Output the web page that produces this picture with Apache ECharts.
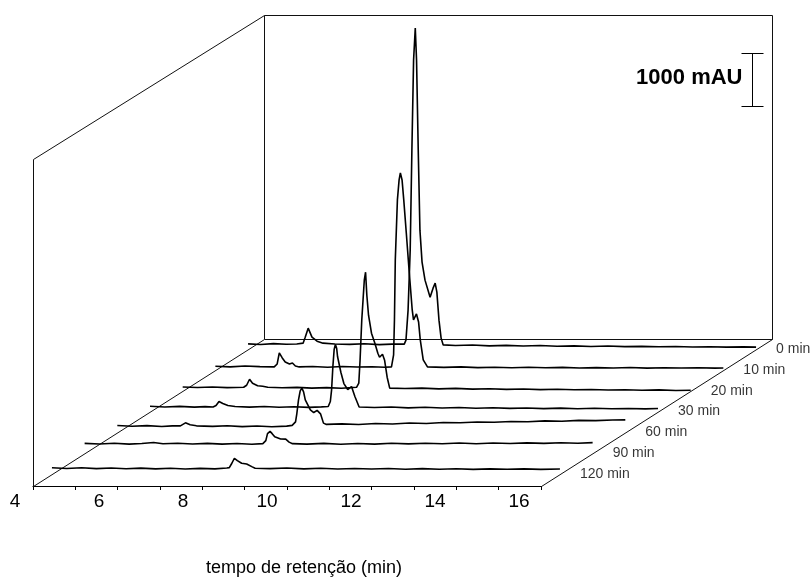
<!DOCTYPE html>
<html>
<head>
<meta charset="utf-8">
<script src="https://cdn.jsdelivr.net/npm/echarts@6/dist/echarts.min.js"></script>
<style>
  html, body { margin: 0; padding: 0; background: #fff; }
  #chart { width: 811px; height: 579px; }
</style>
</head>
<body>
<div id="chart"></div>
<script>
// Sampling times of the chromatograms (back row first)
const sampleLabels = ['0 min', '10 min', '20 min', '30 min', '60 min', '90 min', '120 min'];
// Retention-time tick labels (min)
const timeTicks = [4, 6, 8, 10, 12, 14, 16];
// Vertical scale bar value (mAU)
const scaleBarValue = 1000;
const axisTitle = 'tempo de retenção (min)';

// Chromatograms: [retention time (min), absorbance (mAU)]
const trace0min = [
  [4.00, 100], [4.30, 88], [4.60, 104], [4.90, 92], [5.15, 98], [5.30, 113], [5.35, 226], [5.42, 396],
  [5.51, 226], [5.63, 151], [5.77, 113], [6.05, 96], [6.40, 90], [6.75, 102], [7.10, 86], [7.40, 95],
  [7.69, 94], [7.73, 170], [7.78, 736], [7.83, 1868], [7.87, 3755], [7.91, 5453], [7.95, 6057], [7.98, 5453],
  [8.02, 3755], [8.06, 2245], [8.11, 1642], [8.18, 1302], [8.30, 981], [8.37, 1151], [8.42, 1245], [8.46, 1075],
  [8.51, 547], [8.56, 208], [8.61, 80], [8.90, 70], [9.30, 78], [9.70, 62], [10.1, 72], [10.5, 60],
  [10.9, 68], [11.3, 55], [11.7, 62], [12.1, 50], [12.5, 58], [12.9, 47], [13.3, 52], [13.7, 44],
  [14.1, 50], [14.5, 40], [14.9, 46], [15.3, 38], [15.7, 42], [16.0, 38]
];
const trace10min = [
  [4.00, 70], [4.35, 58], [4.70, 74], [5.05, 62], [5.39, 57], [5.46, 113], [5.51, 321], [5.58, 226],
  [5.65, 151], [5.75, 113], [5.82, 132], [5.89, 75], [5.98, 57], [6.30, 66], [6.65, 52], [7.00, 64],
  [7.35, 55], [7.70, 60], [8.00, 52], [8.16, 57], [8.21, 283], [8.23, 943], [8.25, 2075], [8.30, 3208],
  [8.34, 3585], [8.37, 3717], [8.41, 3585], [8.45, 3208], [8.51, 2585], [8.57, 1943], [8.65, 1132], [8.68, 943],
  [8.75, 1057], [8.80, 906], [8.84, 566], [8.91, 189], [9.01, 57], [9.40, 48], [9.80, 58], [10.2, 44],
  [10.6, 52], [11.0, 40], [11.4, 50], [11.8, 42], [12.2, 48], [12.6, 36], [13.0, 44], [13.4, 38],
  [13.8, 46], [14.2, 34], [14.6, 42], [15.0, 36], [15.4, 40], [15.8, 34], [16.0, 38]
];
const trace20min = [
  [4.00, 72], [4.35, 60], [4.70, 70], [5.05, 58], [5.44, 66], [5.51, 104], [5.58, 217], [5.65, 142],
  [5.77, 94], [5.89, 85], [6.01, 66], [6.35, 56], [6.70, 64], [7.05, 50], [7.40, 58], [7.75, 46],
  [8.11, 66], [8.16, 142], [8.19, 575], [8.23, 1330], [8.26, 1708], [8.29, 2085], [8.32, 2236], [8.35, 1802],
  [8.39, 1425], [8.46, 1085], [8.54, 896], [8.61, 708], [8.65, 632], [8.72, 689], [8.77, 575], [8.83, 255],
  [8.89, 50], [9.25, 42], [9.65, 50], [10.05, 36], [10.45, 44], [10.85, 30], [11.25, 38], [11.65, 26],
  [12.05, 34], [12.45, 22], [12.85, 28], [13.25, 18], [13.65, 24], [14.05, 14], [14.45, 20], [14.85, 10],
  [15.25, 16], [15.65, 6], [16.0, 8]
];
const trace30min = [
  [4.00, 100], [4.35, 86], [4.70, 98], [5.05, 84], [5.30, 92], [5.49, 85], [5.56, 113], [5.63, 189],
  [5.72, 151], [5.84, 113], [6.01, 94], [6.35, 84], [6.70, 96], [7.05, 80], [7.40, 90], [7.75, 78],
  [8.05, 88], [8.21, 94], [8.26, 189], [8.29, 415], [8.32, 849], [8.35, 1170], [8.38, 1264], [8.41, 1189],
  [8.43, 1038], [8.51, 736], [8.58, 528], [8.67, 415], [8.76, 472], [8.84, 283], [8.94, 85], [9.30, 76],
  [9.70, 86], [10.1, 70], [10.5, 80], [10.9, 66], [11.3, 76], [11.7, 62], [12.1, 72], [12.5, 60],
  [12.9, 68], [13.3, 56], [13.7, 64], [14.1, 54], [14.5, 62], [14.9, 52], [15.3, 58], [15.7, 50], [16.0, 57]
];
const trace60min = [
  [4.00, 128], [4.35, 114], [4.70, 126], [5.05, 110], [5.30, 122], [5.49, 123], [5.61, 179], [5.72, 142],
  [5.87, 123], [6.25, 112], [6.60, 124], [6.95, 108], [7.30, 120], [7.65, 106], [8.00, 118], [8.13, 132],
  [8.21, 198], [8.24, 349], [8.28, 613], [8.32, 783], [8.36, 834], [8.40, 764], [8.44, 613], [8.56, 425],
  [8.64, 374], [8.72, 415], [8.80, 349], [8.87, 174], [8.94, 150], [9.30, 160], [9.70, 148], [10.1, 166],
  [10.5, 158], [10.9, 176], [11.3, 168], [11.7, 186], [12.1, 180], [12.5, 196], [12.9, 190], [13.3, 206],
  [13.7, 200], [14.1, 216], [14.5, 210], [14.9, 226], [15.3, 222], [15.7, 234], [16.0, 236]
];
const trace90min = [
  [4.00, 184], [4.35, 172], [4.70, 186], [5.05, 170], [5.35, 182], [5.63, 200], [5.85, 178], [6.20, 186],
  [6.55, 172], [6.90, 184], [7.25, 170], [7.60, 182], [7.95, 168], [8.21, 179], [8.28, 236], [8.32, 368],
  [8.38, 411], [8.43, 368], [8.49, 311], [8.63, 268], [8.75, 264], [8.83, 208], [8.91, 179], [9.25, 170],
  [9.65, 184], [10.05, 168], [10.45, 182], [10.85, 170], [11.25, 186], [11.65, 174], [12.05, 188], [12.45, 176],
  [12.85, 190], [13.25, 178], [13.65, 192], [14.05, 182], [14.45, 194], [14.85, 184], [15.25, 196], [15.65, 188],
  [16.0, 198]
];
const trace120min = [
  [4.00, 118], [4.35, 104], [4.70, 116], [5.05, 100], [5.40, 112], [5.75, 98], [6.10, 110], [6.45, 96],
  [6.80, 108], [7.15, 94], [7.50, 106], [7.85, 96], [8.13, 113], [8.19, 119], [8.25, 202], [8.31, 296],
  [8.38, 251], [8.48, 202], [8.60, 189], [8.72, 138], [8.80, 108], [9.15, 100], [9.55, 112], [9.95, 96],
  [10.35, 108], [10.75, 94], [11.15, 104], [11.55, 92], [11.95, 102], [12.35, 90], [12.75, 100], [13.15, 88],
  [13.55, 98], [13.95, 86], [14.35, 96], [14.75, 88], [15.15, 96], [15.55, 86], [16.0, 94]
];
const traces = [trace0min, trace10min, trace20min, trace30min, trace60min, trace90min, trace120min];

// ---- Oblique 3D box layout (pixels) ----
const T_MIN = 4, T_MAX = 16;
const FRONT_X = 33, FRONT_Y = 486;      // front-left floor corner
const AXIS_W = 508;                     // length of the time axis
const DEPTH_DX = 231, DEPTH_DY = -147;  // front-to-back floor vector
const WALL_H = 324.5;                   // back wall height
const PX_PER_1000 = 53;                 // vertical pixels per 1000 mAU
const TRACE_H = 335;                    // plot height of each trace grid
const FIRST_DEPTH = 0.082, DEPTH_STEP = 0.1415;
const SCALE_BAR_AT = { time: 15.9, from: 4585 };  // anchor of the scale bar on the back trace
const FONT = '"Liberation Sans", Arial, Helvetica, sans-serif';

const n = traces.length;
const depths = traces.map((_, i) => FIRST_DEPTH + DEPTH_STEP * (n - 1 - i));
const yMax = TRACE_H / PX_PER_1000 * 1000;

const grid = [], xAxis = [], yAxis = [], series = [];

traces.forEach((data, i) => {
  const d = depths[i];
  const baseY = FRONT_Y + DEPTH_DY * d;
  grid.push({ left: FRONT_X + DEPTH_DX * d, top: baseY - TRACE_H, width: AXIS_W, height: TRACE_H,
              outerBoundsMode: 'none', containLabel: false });
  xAxis.push({ gridIndex: i, type: 'value', min: T_MIN, max: T_MAX, show: false });
  yAxis.push({ gridIndex: i, type: 'value', min: 0, max: yMax, show: false });
  series.push({
    type: 'line', name: sampleLabels[i], xAxisIndex: i, yAxisIndex: i, data,
    showSymbol: false, symbol: 'none', clip: false, silent: true,
    lineStyle: { color: '#000', width: 1.6 }, z: 3
  });
  // sample label at the right end of each row's floor line
  series.push({
    type: 'scatter', xAxisIndex: i, yAxisIndex: i, data: [[T_MAX, 0]], symbolSize: 0, silent: true, clip: false,
    label: { show: true, position: 'right', distance: 20, formatter: sampleLabels[i],
             color: '#000', fontSize: 14, fontFamily: FONT }
  });
});

// front floor edge with 1-min ticks
const floorIdx = grid.length;
grid.push({ left: FRONT_X, top: FRONT_Y - 50, width: AXIS_W, height: 50, outerBoundsMode: 'none', containLabel: false });
xAxis.push({ gridIndex: floorIdx, type: 'value', min: T_MIN, max: T_MAX, interval: 1,
  axisLine: { show: true, lineStyle: { color: '#000', width: 1.2 } },
  axisTick: { show: true, length: 4, lineStyle: { color: '#000', width: 1 } },
  axisLabel: { show: false }, splitLine: { show: false } });
yAxis.push({ gridIndex: floorIdx, type: 'value', show: false });

// tick labels, shifted forward along the depth direction
const labelIdx = grid.length;
grid.push({ left: FRONT_X - 18, top: FRONT_Y - 50, width: AXIS_W - 4, height: 50, outerBoundsMode: 'none', containLabel: false });
xAxis.push({ gridIndex: labelIdx, type: 'value', min: timeTicks[0], max: timeTicks[timeTicks.length - 1],
  interval: timeTicks[1] - timeTicks[0],
  axisLine: { show: false }, axisTick: { show: false }, splitLine: { show: false },
  axisLabel: { show: true, margin: 6, color: '#000', fontSize: 19, fontFamily: FONT,
               formatter: v => (timeTicks.includes(v) ? String(v) : '') } });
yAxis.push({ gridIndex: labelIdx, type: 'value', show: false });

// 1000 mAU scale bar, drawn through the back trace's value axis
series.push({
  type: 'custom', xAxisIndex: 0, yAxisIndex: 0, clip: false, silent: true, z: 5,
  data: [[SCALE_BAR_AT.time, SCALE_BAR_AT.from, SCALE_BAR_AT.from + scaleBarValue]],
  renderItem(params, api) {
    const lo = api.coord([api.value(0), api.value(1)]);
    const hi = api.coord([api.value(0), api.value(2)]);
    const x = Math.round(lo[0]) + 0.5, cap = 11;
    const st = { stroke: '#000', lineWidth: 1 };
    return { type: 'group', children: [
      { type: 'line', shape: { x1: x, y1: lo[1], x2: x, y2: hi[1] }, style: st },
      { type: 'line', shape: { x1: x - cap, y1: Math.round(hi[1]) + 0.5, x2: x + cap, y2: Math.round(hi[1]) + 0.5 }, style: st },
      { type: 'line', shape: { x1: x - cap, y1: Math.round(lo[1]) + 0.5, x2: x + cap, y2: Math.round(lo[1]) + 0.5 }, style: st },
      { type: 'text', x: x - 10, y: (lo[1] + hi[1]) / 2 - 2,
        style: { text: scaleBarValue + ' mAU', align: 'right', verticalAlign: 'middle',
                 font: 'bold 22px ' + FONT, fill: '#000' } }
    ] };
  }
});

// box outline: back wall, left wall, floor diagonals
const P = (x, y) => [Math.round(x) + 0.5, Math.round(y) + 0.5];
const FL = P(FRONT_X, FRONT_Y);
const FR = P(FRONT_X + AXIS_W, FRONT_Y);
const BL = P(FRONT_X + DEPTH_DX, FRONT_Y + DEPTH_DY);
const BR = P(FRONT_X + AXIS_W + DEPTH_DX, FRONT_Y + DEPTH_DY);
const BLT = P(FRONT_X + DEPTH_DX, FRONT_Y + DEPTH_DY - WALL_H);
const BRT = P(FRONT_X + AXIS_W + DEPTH_DX, FRONT_Y + DEPTH_DY - WALL_H);
const FLT = P(FRONT_X, FRONT_Y - WALL_H - 3);
const boxStyle = { stroke: '#111', lineWidth: 1, fill: null };
const graphic = [
  { type: 'polyline', shape: { points: [BL, BLT, BRT, BR, BL] }, style: boxStyle, z: 1 },
  { type: 'polyline', shape: { points: [FL, FLT, BLT] }, style: boxStyle, z: 1 },
  { type: 'line', shape: { x1: FL[0], y1: FL[1], x2: BL[0], y2: BL[1] }, style: boxStyle, z: 1 },
  { type: 'line', shape: { x1: FR[0], y1: FR[1], x2: BR[0], y2: BR[1] }, style: boxStyle, z: 1 },
  { type: 'text', x: 304, y: 568, z: 1,
    style: { text: axisTitle, align: 'center', verticalAlign: 'middle', font: '18px ' + FONT, fill: '#000' } }
];

const chart = echarts.init(document.getElementById('chart'), null, { renderer: 'canvas' });
chart.setOption({
  animation: false,
  backgroundColor: '#fff',
  grid, xAxis, yAxis, series, graphic
});
</script>
</body>
</html>
